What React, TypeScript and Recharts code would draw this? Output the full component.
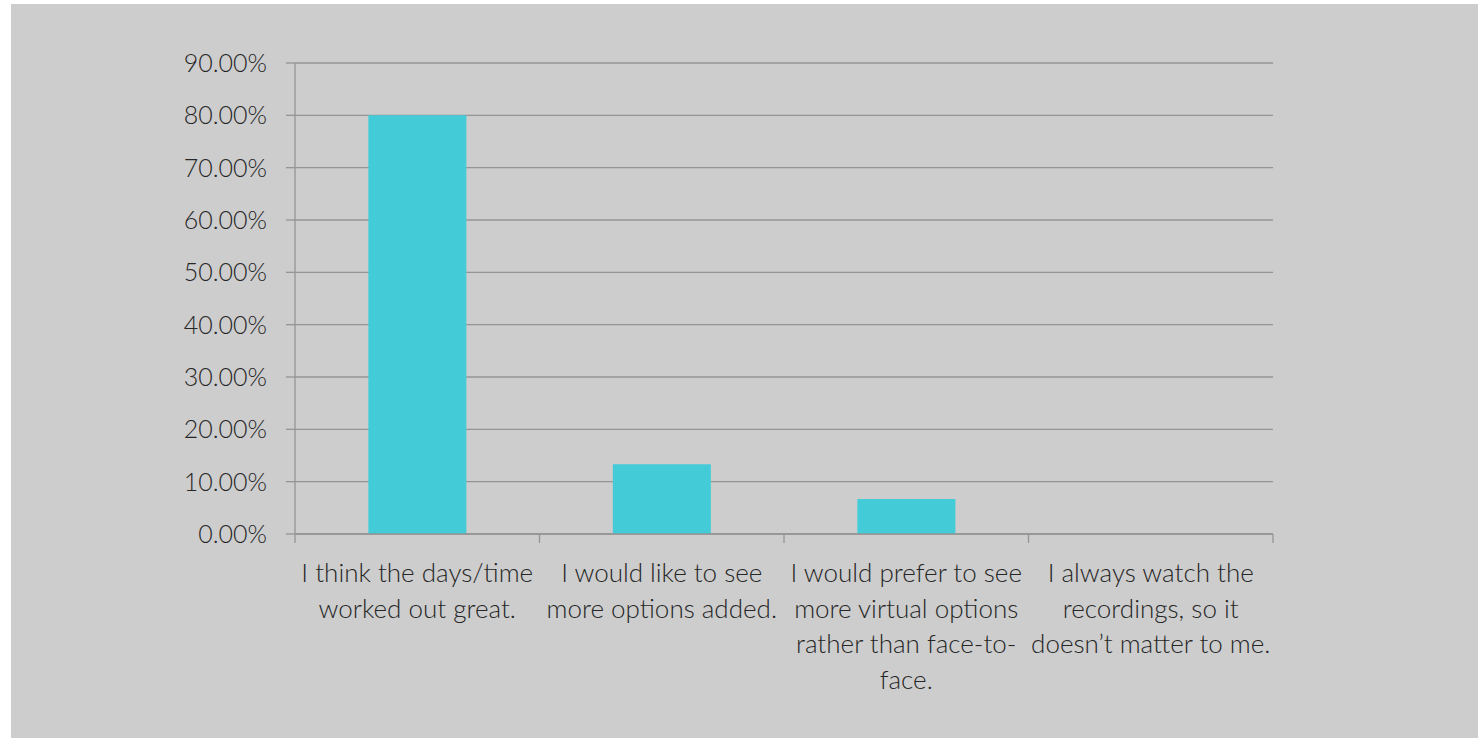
import React from 'react';
import { BarChart, Bar, XAxis, YAxis, CartesianGrid } from 'recharts';

// Survey answers (one bar per answer)
const categories = [
  'I think the days/time worked out great.',
  'I would like to see more options added.',
  'I would prefer to see more virtual options rather than face-to-face.',
  'I always watch the recordings, so it doesn’t matter to me.',
];

// Axis label text, broken into the lines shown under each bar
const categoryLines = [
  ['I think the days/time', 'worked out great.'],
  ['I would like to see', 'more options added.'],
  ['I would prefer to see', 'more virtual options', 'rather than face-to-', 'face.'],
  ['I always watch the', 'recordings, so it', 'doesn’t matter to me.'],
];

// Share of respondents choosing each answer
const shares = [0.8, 0.1333, 0.0667, 0];

// Value-axis ticks
const yTicks = [0, 0.1, 0.2, 0.3, 0.4, 0.5, 0.6, 0.7, 0.8, 0.9];

const data = categories.map((name, i) => ({ name, share: shares[i] }));

const TEXT = '#262626';
const LINE = '#959595';
const BAR = '#43ccd8';
const LABEL_SIZE = 26;
const VALUE_SIZE = 25;
const LINE_GAP = 35.5;

const formatPct = (v: number) => `${(v * 100).toFixed(2)}%`;

const CategoryTick = (props: any) => {
  const { x, y, payload, index, visibleTicksCount } = props;
  const half = payload && typeof payload.offset === 'number' && payload.offset > 0 ? payload.offset : 122.25;
  const lines = categoryLines[index] || [String(payload.value)];
  const isLast = index === (visibleTicksCount ?? categories.length) - 1;
  return (
    <g>
      <line x1={x - half} x2={x - half} y1={y} y2={y + 9} stroke={LINE} strokeWidth={1.3} />
      {isLast && <line x1={x + half} x2={x + half} y1={y} y2={y + 9} stroke={LINE} strokeWidth={1.3} />}
      <text x={x} y={y + 48} textAnchor="middle" fill={TEXT} fontSize={LABEL_SIZE}>
        {lines.map((line, i) => (
          <tspan key={i} x={x} dy={i === 0 ? 0 : LINE_GAP}>
            {line}
          </tspan>
        ))}
      </text>
    </g>
  );
};

export default function App() {
  return (
    <div style={{ position: 'absolute', left: 0, top: 0, width: 1478, height: 738, background: '#ffffff' }}>
      <div
        style={{
          position: 'absolute',
          left: 11,
          top: 4,
          width: 1467,
          height: 734,
          background: '#cdcdcd',
          fontFamily: "Lato, 'Open Sans', sans-serif",
          fontWeight: 300,
        }}
      >
        <BarChart
          width={1467}
          height={734}
          data={data}
          margin={{ top: 59, right: 205, left: 0, bottom: 0 }}
          barCategoryGap="30%"
        >
          <CartesianGrid vertical={false} stroke={LINE} strokeWidth={1.3} />
          <XAxis
            dataKey="name"
            height={204}
            interval={0}
            tickLine={false}
            tickSize={0}
            tickMargin={0}
            axisLine={{ stroke: LINE, strokeWidth: 1.3 }}
            tick={<CategoryTick />}
          />
          <YAxis
            width={284}
            domain={[0, 0.9]}
            ticks={yTicks}
            tickFormatter={formatPct}
            tickSize={9}
            tickMargin={19}
            tickLine={{ stroke: LINE, strokeWidth: 1.3 }}
            axisLine={{ stroke: LINE, strokeWidth: 1.3 }}
            tick={{ fill: TEXT, fontSize: VALUE_SIZE }}
          />
          <Bar dataKey="share" fill={BAR} isAnimationActive={false} />
        </BarChart>
      </div>
    </div>
  );
}
